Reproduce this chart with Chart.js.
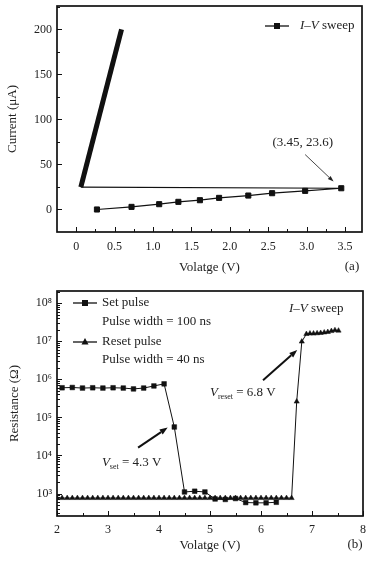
<!DOCTYPE html>
<html><head><meta charset="utf-8">
<script src="https://cdn.jsdelivr.net/npm/chart.js@4/dist/chart.umd.min.js"></script>
<style>
html,body{margin:0;padding:0;background:#fff;}
canvas{display:block;}
</style></head><body>
<canvas id="ca" width="375" height="281"></canvas>
<canvas id="cb" width="375" height="281"></canvas>
<script>
// ---------- data: panel (a) I-V sweep ----------
const ivVoltage = [0.27, 0.72, 1.08, 1.33, 1.61, 1.86, 2.24, 2.55, 2.98, 3.45, 0.06, 0.59];
const ivCurrent = [0.0, 2.9, 5.9, 8.5, 10.3, 12.9, 15.5, 18.1, 20.7, 23.6, 24.8, 200];
const xTicksA = [0, 0.5, 1.0, 1.5, 2.0, 2.5, 3.0, 3.5];
const xLabelsA = ['0', '0.5', '1.0', '1.5', '2.0', '2.5', '3.0', '3.5'];
const yTicksA = [0, 50, 100, 150, 200];
const yLabelsA = ['0', '50', '100', '150', '200'];

// ---------- data: panel (b) pulse switching ----------
const setVoltage = [2.1, 2.3, 2.5, 2.7, 2.9, 3.1, 3.3, 3.5, 3.7, 3.9, 4.1, 4.3, 4.5, 4.7, 4.9, 5.1, 5.3, 5.5, 5.7, 5.9, 6.1, 6.3];
const setResistance = [6.0e5, 6.1e5, 5.9e5, 6.0e5, 5.9e5, 6.0e5, 5.9e5, 5.6e5, 5.9e5, 6.7e5, 7.6e5, 5.6e4, 1.1e3, 1.15e3, 1.1e3, 7.2e2, 7.0e2, 7.4e2, 5.8e2, 5.7e2, 5.7e2, 5.9e2];
const resetVoltage = [2.0, 2.1, 2.2, 2.3, 2.4, 2.5, 2.6, 2.7, 2.8, 2.9, 3.0, 3.1, 3.2, 3.3, 3.4, 3.5, 3.6, 3.7, 3.8, 3.9, 4.0, 4.1, 4.2, 4.3, 4.4, 4.5, 4.6, 4.7, 4.8, 4.9, 5.0, 5.1, 5.2, 5.3, 5.4, 5.5, 5.6, 5.7, 5.8, 5.9, 6.0, 6.1, 6.2, 6.3, 6.4, 6.5, 6.6, 6.7, 6.8, 6.89, 6.96, 7.03, 7.10, 7.17, 7.24, 7.31, 7.38, 7.45, 7.52];
const resetResistance = [7.6e2, 7.6e2, 7.6e2, 7.6e2, 7.6e2, 7.6e2, 7.6e2, 7.6e2, 7.6e2, 7.6e2, 7.6e2, 7.6e2, 7.6e2, 7.6e2, 7.6e2, 7.6e2, 7.6e2, 7.6e2, 7.6e2, 7.6e2, 7.6e2, 7.6e2, 7.6e2, 7.6e2, 7.6e2, 7.6e2, 7.6e2, 7.6e2, 7.6e2, 7.6e2, 7.6e2, 7.6e2, 7.6e2, 7.6e2, 7.6e2, 7.6e2, 7.6e2, 7.6e2, 7.6e2, 7.6e2, 7.6e2, 7.6e2, 7.6e2, 7.6e2, 7.6e2, 7.6e2, 7.6e2, 2.6e5, 9.8e6, 1.55e7, 1.6e7, 1.6e7, 1.62e7, 1.65e7, 1.7e7, 1.75e7, 1.85e7, 1.95e7, 1.9e7];
const xTicksB = [2, 3, 4, 5, 6, 7, 8];
const xLabelsB = ['2', '3', '4', '5', '6', '7', '8'];
const yTicksB = [1e3, 1e4, 1e5, 1e6, 1e7, 1e8];
const yLabelsB = ['10³', '10⁴', '10⁵', '10⁶', '10⁷', '10⁸'];

// ---------- annotation anchors (data coordinates) ----------
const annoA = {text: '(3.45, 23.6)', x: 2.95, y: 74, from: [2.98, 61], to: [3.35, 31]};
const annoSet = {x: 2.88, y: 6.4e3, from: [3.59, 1.6e4], to: [4.17, 5.4e4]};
const annoReset = {x: 5.0, y: 4.4e5, from: [6.04, 9.5e5], to: [6.71, 5.9e6]};

const FONT = '"Liberation Serif", "Times New Roman", serif';
Chart.defaults.font.family = FONT;
Chart.defaults.color = '#222';
const INK = '#111';

function toXY(xs, ys) { return xs.map((x, i) => ({x: x, y: ys[i]})); }

function minorLinear(vals, min, max) {
  const step = vals[1] - vals[0], out = [];
  for (let a = vals[0] - step / 2; a > min + 1e-9; a -= step) out.push(a);
  for (let i = 0; i < vals.length - 1; i++) out.push((vals[i] + vals[i + 1]) / 2);
  for (let a = vals[vals.length - 1] + step / 2; a < max - 1e-9; a += step) out.push(a);
  return out;
}
function minorLog(min, max) {
  const out = [];
  for (let d = Math.floor(Math.log10(min)); d <= Math.ceil(Math.log10(max)); d++) {
    for (let k = 2; k <= 9; k++) { const v = k * Math.pow(10, d); if (v > min && v < max) out.push(v); }
  }
  return out;
}
function fitX(h) { return s => { s.height = h; s.paddingLeft = 0; s.paddingRight = 0; }; }
function fitY(w) { return s => { s.width = w; s.paddingTop = 0; s.paddingBottom = 0; }; }

const framePlugin = {
  id: 'frame',
  afterDatasetsDraw(chart) {
    const {ctx, chartArea: {left, right, top, bottom}} = chart;
    const xs = chart.scales.x, ys = chart.scales.y;
    ctx.save();
    ctx.strokeStyle = INK;
    ctx.lineWidth = 1;
    ctx.beginPath();
    const xMaj = xs.ticks.map(t => t.value);
    const yMaj = ys.ticks.map(t => t.value);
    const xMin = minorLinear(xMaj, xs.min, xs.max);
    const yMin = ys.type === 'logarithmic' ? minorLog(ys.min, ys.max) : minorLinear(yMaj, ys.min, ys.max);
    xMaj.forEach(v => { const p = Math.round(xs.getPixelForValue(v)) + 0.5; ctx.moveTo(p, bottom); ctx.lineTo(p, bottom - 5); });
    xMin.forEach(v => { const p = Math.round(xs.getPixelForValue(v)) + 0.5; ctx.moveTo(p, bottom); ctx.lineTo(p, bottom - 3); });
    yMaj.forEach(v => { const p = Math.round(ys.getPixelForValue(v)) + 0.5; ctx.moveTo(left, p); ctx.lineTo(left + 5, p); });
    yMin.forEach(v => { const p = Math.round(ys.getPixelForValue(v)) + 0.5; ctx.moveTo(left, p); ctx.lineTo(left + 3, p); });
    ctx.stroke();
    ctx.lineWidth = 1.7;
    ctx.strokeRect(left, top, right - left, bottom - top);
    ctx.restore();
  }
};

function drawRich(ctx, parts, x, y, size, align) {
  const fontOf = p => (p.italic ? 'italic ' : '') + (p.sub ? Math.round(size * 0.6) : size) + 'px ' + FONT;
  let w = 0;
  parts.forEach(p => { ctx.font = fontOf(p); w += ctx.measureText(p.t).width; });
  let cx = align === 'center' ? x - w / 2 : (align === 'right' ? x - w : x);
  ctx.textBaseline = 'middle';
  ctx.textAlign = 'left';
  parts.forEach(p => {
    ctx.font = fontOf(p);
    ctx.fillText(p.t, cx, y + (p.sub ? size * 0.32 : 0));
    cx += ctx.measureText(p.t).width;
  });
}
function drawArrow(ctx, x0, y0, x1, y1, lw, hl, hw) {
  const a = Math.atan2(y1 - y0, x1 - x0);
  const bx = x1 - hl * Math.cos(a), by = y1 - hl * Math.sin(a);
  ctx.lineWidth = lw;
  ctx.beginPath(); ctx.moveTo(x0, y0); ctx.lineTo(bx, by); ctx.stroke();
  ctx.beginPath();
  ctx.moveTo(x1, y1);
  ctx.lineTo(bx + hw / 2 * Math.sin(a), by - hw / 2 * Math.cos(a));
  ctx.lineTo(bx - hw / 2 * Math.sin(a), by + hw / 2 * Math.cos(a));
  ctx.closePath(); ctx.fill();
}
const ivParts = [{t: 'I', italic: true}, {t: '–'}, {t: 'V', italic: true}, {t: ' sweep'}];

// ---------- chart (a) ----------
const annoPluginA = {
  id: 'annoA',
  afterDraw(chart) {
    const {ctx, chartArea: ca} = chart;
    const xs = chart.scales.x, ys = chart.scales.y;
    ctx.save();
    ctx.fillStyle = '#222'; ctx.strokeStyle = '#333';
    drawRich(ctx, [{t: annoA.text}], xs.getPixelForValue(annoA.x), ys.getPixelForValue(annoA.y), 13, 'center');
    drawArrow(ctx, xs.getPixelForValue(annoA.from[0]), ys.getPixelForValue(annoA.from[1]),
      xs.getPixelForValue(annoA.to[0]), ys.getPixelForValue(annoA.to[1]), 0.9, 6, 4);
    // legend
    const ly = ca.top + 20;
    ctx.strokeStyle = INK; ctx.fillStyle = INK; ctx.lineWidth = 1.3;
    ctx.beginPath(); ctx.moveTo(ca.left + 208, ly); ctx.lineTo(ca.left + 232, ly); ctx.stroke();
    ctx.fillRect(ca.left + 217, ly - 3, 6, 6);
    ctx.fillStyle = '#222';
    drawRich(ctx, ivParts, ca.left + 243, ly, 13, 'left');
    // panel tag
    drawRich(ctx, [{t: '(a)'}], 352, 267, 13, 'center');
    ctx.restore();
  }
};

new Chart(document.getElementById('ca'), {
  type: 'scatter',
  data: {
    datasets: [{
      label: 'I–V sweep',
      data: toXY(ivVoltage, ivCurrent),
      showLine: true,
      borderColor: INK,
      backgroundColor: INK,
      borderWidth: 1.2,
      pointStyle: 'rect',
      pointRadius: ctx => (ctx.dataIndex < 10 ? 3.6 : 0),
      pointBorderWidth: 1,
      pointBorderColor: INK,
      tension: 0,
      segment: {borderWidth: ctx => (ctx.p0DataIndex >= 10 ? 5 : 1.2)}
    }]
  },
  options: {
    responsive: false,
    animation: false,
    layout: {padding: {top: 6, right: 13, left: 0, bottom: 0}},
    plugins: {legend: {display: false}, tooltip: {enabled: false}},
    scales: {
      x: {
        type: 'linear', min: -0.25, max: 3.72,
        afterBuildTicks: s => { s.ticks = xTicksA.map(v => ({value: v})); },
        afterFit: fitX(49),
        grid: {display: false, drawTicks: false},
        border: {display: false},
        ticks: {callback: (v, i) => xLabelsA[i], font: {size: 12}, color: '#222', padding: 8, maxRotation: 0, autoSkip: false},
        title: {display: true, text: 'Volatge (V)', font: {size: 13}, color: '#222', padding: {top: 0, bottom: 6}}
      },
      y: {
        type: 'linear', min: -25, max: 226,
        afterBuildTicks: s => { s.ticks = yTicksA.map(v => ({value: v})); },
        afterFit: fitY(57),
        grid: {display: false, drawTicks: false},
        border: {display: false},
        ticks: {callback: (v, i) => yLabelsA[i], font: {size: 12}, color: '#222', padding: 5, autoSkip: false},
        title: {display: true, text: 'Current (μA)', font: {size: 13}, color: '#222', padding: {top: 5, bottom: 0}}
      }
    }
  },
  plugins: [framePlugin, annoPluginA]
});

// ---------- chart (b) ----------
const annoPluginB = {
  id: 'annoB',
  afterDraw(chart) {
    const {ctx, chartArea: ca} = chart;
    const xs = chart.scales.x, ys = chart.scales.y;
    ctx.save();
    ctx.fillStyle = '#222'; ctx.strokeStyle = INK;
    drawRich(ctx, [{t: 'V', italic: true}, {t: 'set', sub: true}, {t: ' = 4.3 V'}],
      xs.getPixelForValue(annoSet.x), ys.getPixelForValue(annoSet.y), 13, 'left');
    drawRich(ctx, [{t: 'V', italic: true}, {t: 'reset', sub: true}, {t: ' = 6.8 V'}],
      xs.getPixelForValue(annoReset.x), ys.getPixelForValue(annoReset.y), 13, 'left');
    ctx.fillStyle = INK;
    drawArrow(ctx, xs.getPixelForValue(annoSet.from[0]), ys.getPixelForValue(annoSet.from[1]),
      xs.getPixelForValue(annoSet.to[0]), ys.getPixelForValue(annoSet.to[1]), 2, 8, 6);
    drawArrow(ctx, xs.getPixelForValue(annoReset.from[0]), ys.getPixelForValue(annoReset.from[1]),
      xs.getPixelForValue(annoReset.to[0]), ys.getPixelForValue(annoReset.to[1]), 2, 8, 6);
    // legend
    const lx = ca.left + 16;
    ctx.lineWidth = 1.3;
    let y1 = ca.top + 12;
    ctx.beginPath(); ctx.moveTo(lx, y1); ctx.lineTo(lx + 24, y1); ctx.stroke();
    ctx.fillRect(lx + 9, y1 - 3, 6, 6);
    let y3 = ca.top + 51;
    ctx.beginPath(); ctx.moveTo(lx, y3); ctx.lineTo(lx + 24, y3); ctx.stroke();
    ctx.beginPath(); ctx.moveTo(lx + 12, y3 - 4); ctx.lineTo(lx + 15.5, y3 + 2.5); ctx.lineTo(lx + 8.5, y3 + 2.5); ctx.closePath(); ctx.fill();
    ctx.fillStyle = '#222';
    drawRich(ctx, [{t: 'Set pulse'}], lx + 29, y1, 13, 'left');
    drawRich(ctx, [{t: 'Pulse width = 100 ns'}], lx + 29, ca.top + 31, 13, 'left');
    drawRich(ctx, [{t: 'Reset pulse'}], lx + 29, y3, 13, 'left');
    drawRich(ctx, [{t: 'Pulse width = 40 ns'}], lx + 29, ca.top + 68.5, 13, 'left');
    drawRich(ctx, ivParts, ca.left + 232, ca.top + 18, 13, 'left');
    drawRich(ctx, [{t: '(b)'}], 355, 264, 13, 'center');
    ctx.restore();
  }
};

new Chart(document.getElementById('cb'), {
  type: 'scatter',
  data: {
    datasets: [{
      label: 'Reset pulse',
      data: toXY(resetVoltage, resetResistance),
      showLine: true,
      borderColor: INK, backgroundColor: INK,
      borderWidth: 1,
      pointStyle: 'triangle', pointRadius: 3, pointBorderWidth: 0.5, pointBorderColor: INK,
      tension: 0
    }, {
      label: 'Set pulse',
      data: toXY(setVoltage, setResistance),
      showLine: true,
      borderColor: INK, backgroundColor: INK,
      borderWidth: 1,
      pointStyle: 'rect', pointRadius: 3.3, pointBorderWidth: 0.5, pointBorderColor: INK,
      tension: 0
    }]
  },
  options: {
    responsive: false,
    animation: false,
    layout: {padding: {top: 10, right: 12, left: 0, bottom: 0}},
    plugins: {legend: {display: false}, tooltip: {enabled: false}},
    scales: {
      x: {
        type: 'linear', min: 2, max: 8,
        afterBuildTicks: s => { s.ticks = xTicksB.map(v => ({value: v})); },
        afterFit: fitX(46),
        grid: {display: false, drawTicks: false},
        border: {display: false},
        ticks: {callback: (v, i) => xLabelsB[i], font: {size: 12}, color: '#222', padding: 7, maxRotation: 0, autoSkip: false},
        title: {display: true, text: 'Volatge (V)', font: {size: 13}, color: '#222', padding: {top: 0, bottom: 9}}
      },
      y: {
        type: 'logarithmic', min: 257, max: 2.09e8,
        afterBuildTicks: s => { s.ticks = yTicksB.map(v => ({value: v})); },
        afterFit: fitY(57),
        grid: {display: false, drawTicks: false},
        border: {display: false},
        ticks: {callback: (v, i) => yLabelsB[i], font: {size: 12}, color: '#222', padding: 5, autoSkip: false},
        title: {display: true, text: 'Resistance (Ω)', font: {size: 13}, color: '#222', padding: {top: 7, bottom: 0}}
      }
    }
  },
  plugins: [framePlugin, annoPluginB]
});
</script>
</body></html>
